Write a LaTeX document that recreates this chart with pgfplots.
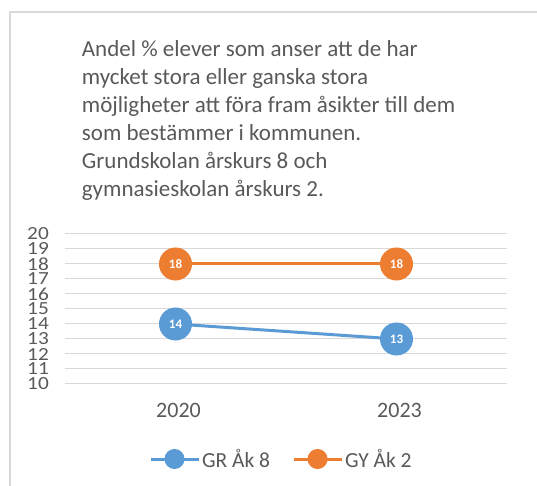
\documentclass[border=0pt]{standalone}
\usepackage{pgfplots}
\pgfplotsset{compat=1.18}
\usepackage{fontspec}
\setmainfont{Carlito}
\newfontfamily\ylabfont{Carlito}[FakeStretch=1.15]
\definecolor{txt}{HTML}{595959}
\definecolor{gridc}{HTML}{D9D9D9}
\definecolor{blu}{HTML}{5B9BD5}
\definecolor{org}{HTML}{ED7D31}
\begin{document}
\begin{tikzpicture}
\useasboundingbox (0,0) rectangle (537pt,486pt);
\draw[gridc, line width=2pt] (10pt,0pt) -- (10pt,474pt) -- (537pt,474pt);
\node[anchor=north west, align=left, inner sep=0pt, text=txt, font=\fontsize{23}{28.1}\selectfont] at (81.7pt,446pt) {Andel \% elever som anser att de har\\mycket stora eller ganska stora\\möjligheter att föra fram åsikter till dem\\som bestämmer i kommunen.\\Grundskolan årskurs 8 och\\gymnasieskolan årskurs 2.};
\begin{axis}[
  at={(65pt,102pt)}, anchor=south west,
  scale only axis, width=442pt, height=150pt,
  xmin=-0.5, xmax=1.5, ymin=10, ymax=20,
  xtick={0,1}, xticklabels={2020,2023},
  ytick={10,11,...,20},
  axis line style={draw=none},
  major tick length=0pt,
  ymajorgrids, grid style={gridc, line width=1pt},
  tick label style={text=txt},
  /pgf/number format/assume math mode=true,
  yticklabel style={font=\ylabfont\fontsize{18.5}{18.5}\selectfont, inner sep=0pt, xshift=-16pt},
  xticklabel style={font=\fontsize{22}{22}\selectfont, inner sep=0pt, yshift=-19pt, xshift=3pt},
  clip=false,
  nodes near coords,
  every node near coord/.append style={text=white, font=\fontsize{13}{13}\selectfont\bfseries, anchor=center, inner sep=0pt},
  legend columns=2,
  legend cell align=left,
  legend style={draw=none, fill=none, at={([xshift=84pt,yshift=-75pt]axis description cs:0,0)}, anchor=west, inner sep=0pt, outer sep=0pt, font=\fontsize{21.5}{21.5}\selectfont, text=txt, /tikz/every even column/.append style={column sep=20pt}},
  legend image code/.code={
    \draw[#1, mark=none, line width=3pt] (0pt,0pt) -- (48pt,0pt);
    \fill[#1] (24pt,0pt) circle (8.5pt);
  },
]
\addplot[blu, line width=3pt, mark=*, mark size=15pt, mark options={fill=blu, draw=blu}] coordinates {(0,14) (1,13)};
\addlegendentry{GR Åk 8}
\addplot[org, line width=3pt, mark=*, mark size=15pt, mark options={fill=org, draw=org}] coordinates {(0,18) (1,18)};
\addlegendentry{GY Åk 2}
\end{axis}
\end{tikzpicture}
\end{document}
